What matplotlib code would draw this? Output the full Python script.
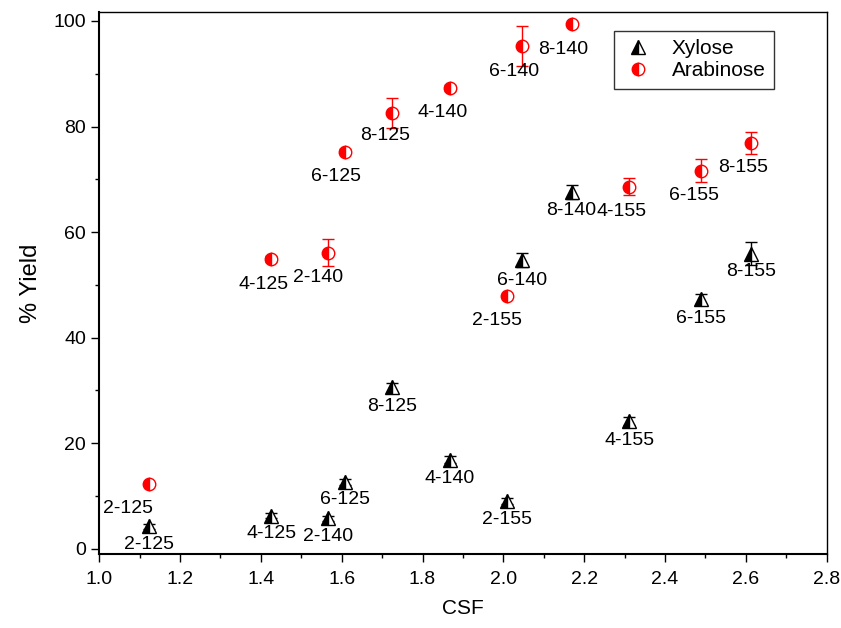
import matplotlib
matplotlib.use("Agg")
import matplotlib.pyplot as plt
from matplotlib.ticker import MultipleLocator

plt.rcParams['font.family'] = ['Liberation Sans', 'DejaVu Sans']

# conditions (time-temperature) and their CSF values
conditions = ["2-125", "4-125", "2-140", "6-125", "8-125", "4-140",
              "2-155", "6-140", "8-140", "4-155", "6-155", "8-155"]
csf = [1.124, 1.426, 1.567, 1.607, 1.725, 1.867,
       2.010, 2.047, 2.169, 2.312, 2.490, 2.612]

xylose = [4.3, 6.3, 5.8, 12.7, 30.6, 16.9, 9.1, 54.7, 67.6, 24.2, 47.3, 55.9]
xylose_err = [0.5, 0.5, 0.5, 0.6, 0.8, 0.6, 0.6, 1.4, 1.4, 0.8, 1.0, 2.2]

arabinose = [12.3, 54.9, 56.1, 75.2, 82.6, 87.3, 47.9, 95.2, 99.4, 68.6, 71.6, 76.9]
arabinose_err = [0.4, 0.5, 2.6, 0.5, 2.8, 0.6, 0.4, 3.8, 0.4, 1.6, 2.2, 2.1]

# label offsets in pixels (dx, dy)
xyl_offsets = [(0, -18), (0, -18), (0, -18), (0, -18), (0, -19), (0, -19),
               (0, -19), (0, -20), (0, -19), (0, -19), (0, -19), (0, -18)]
ara_offsets = [(-21, -25), (-8, -25), (-10, -25), (-9, -25), (-7, -23), (-7, -25),
               (-10, -25), (-8, -25), (-8, -25), (-8, -25), (-7, -25), (-8, -25)]

fig = plt.figure(figsize=(8.41, 6.28), dpi=100)
ax = fig.add_axes([0.118, 0.118, 0.865, 0.863])

xyl = ax.errorbar(csf, xylose, yerr=xylose_err, fmt='^', color='black', ecolor='black',
                  markersize=10, fillstyle='left', markerfacecoloralt='white',
                  markeredgecolor='black', markeredgewidth=1, elinewidth=1,
                  capsize=4, capthick=1)
ara = ax.errorbar(csf, arabinose, yerr=arabinose_err, fmt='o', color='red', ecolor='red',
                  markersize=9, fillstyle='left', markerfacecoloralt='white',
                  markeredgecolor='red', markeredgewidth=1, elinewidth=1,
                  capsize=4, capthick=1)

for x, y, lab, off in zip(csf, xylose, conditions, xyl_offsets):
    ax.annotate(lab, (x, y), xytext=off, textcoords='offset pixels',
                ha='center', va='center', fontsize=14)
for x, y, lab, off in zip(csf, arabinose, conditions, ara_offsets):
    ax.annotate(lab, (x, y), xytext=off, textcoords='offset pixels',
                ha='center', va='center', fontsize=14)

ax.set_xlim(1.0, 2.8)
ax.set_ylim(-0.95, 101.7)
ax.xaxis.set_major_locator(MultipleLocator(0.2))
ax.xaxis.set_minor_locator(MultipleLocator(0.1))
ax.yaxis.set_major_locator(MultipleLocator(20))
ax.yaxis.set_minor_locator(MultipleLocator(10))
ax.xaxis.set_major_formatter(plt.FormatStrFormatter('%.1f'))
ax.tick_params(which='major', direction='out', length=6, width=1, labelsize=14)
ax.tick_params(axis='x', which='major', pad=6)
ax.tick_params(which='minor', direction='out', length=3, width=1)
ax.tick_params(top=False, right=False)

for s in ['left', 'bottom']:
    ax.spines[s].set_linewidth(1.5)
for s in ['top', 'right']:
    ax.spines[s].set_linewidth(1.0)

ax.set_xlabel('CSF', fontsize=15, labelpad=8)
ax.set_ylabel('% Yield', fontsize=17, labelpad=8)

leg = ax.legend(handles=[xyl[0], ara[0]], labels=['Xylose', 'Arabinose'],
                loc='upper right', bbox_to_anchor=(0.942, 0.984), fontsize=15,
                frameon=True, fancybox=False, edgecolor='black', handletextpad=0.9,
                handlelength=1.5, borderpad=0.4, labelspacing=0.15)
leg.get_frame().set_linewidth(1.0)

fig.savefig('out.png', dpi=100)
